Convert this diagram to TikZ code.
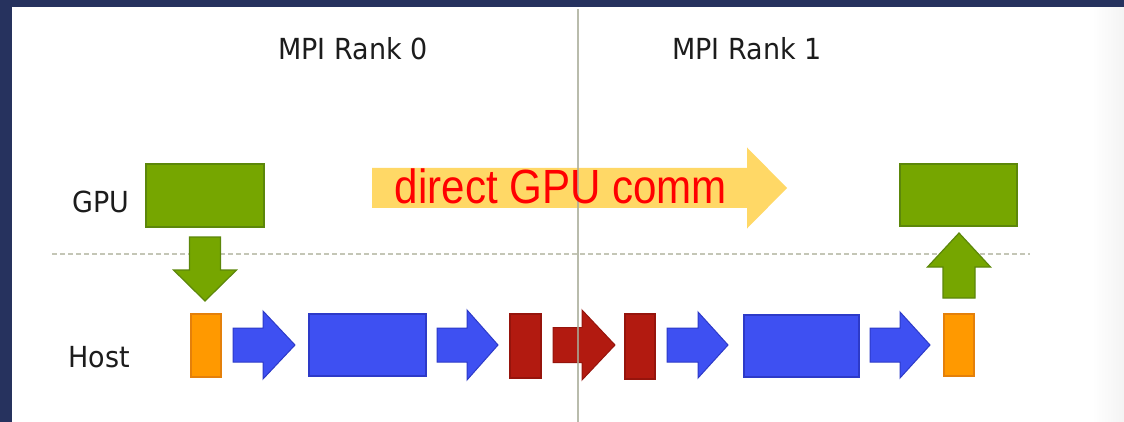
\documentclass[tikz,border=0pt]{standalone}
\usepackage{fontspec}
\setmainfont{DejaVu Sans}
\newfontfamily\commfont{Liberation Sans}
\usetikzlibrary{calc}

\definecolor{navy}{RGB}{38,50,94}
\definecolor{gpugreen}{RGB}{118,166,0}
\definecolor{gpugreenD}{RGB}{92,135,10}
\definecolor{hostorange}{RGB}{255,153,0}
\definecolor{hostorangeD}{RGB}{228,128,10}
\definecolor{stageblue}{RGB}{62,80,242}
\definecolor{stageblueD}{RGB}{45,58,200}
\definecolor{netred}{RGB}{178,26,16}
\definecolor{netredD}{RGB}{150,20,12}
\definecolor{commyellow}{RGB}{255,216,102}
\definecolor{divider}{RGB}{168,172,152}
\definecolor{dotline}{RGB}{196,198,182}
\definecolor{labelgray}{RGB}{28,28,28}

% horizontal block arrow: style, shaft start x, head base x, tip x, centre y, half shaft, half head
\newcommand{\hblock}[7]{%
  \filldraw[#1] (#2,#5-#6) -- (#3,#5-#6) -- (#3,#5-#7) -- (#4,#5)
    -- (#3,#5+#7) -- (#3,#5+#6) -- (#2,#5+#6) -- cycle;}
% vertical block arrow: style, centre x, shaft end y, head base y, tip y, half shaft, half head
\newcommand{\vblock}[7]{%
  \filldraw[#1] (#2-#6,#3) -- (#2-#6,#4) -- (#2-#7,#4) -- (#2,#5)
    -- (#2+#7,#4) -- (#2+#6,#4) -- (#2+#6,#3) -- cycle;}

\tikzset{
  lbl/.style={text=labelgray, font=\fontsize{29}{29}\selectfont, inner sep=0pt, anchor=base, xscale=0.93},
  box/.style={rectangle, inner sep=0pt, line width=1.2pt},
  gpubox/.style={box, fill=gpugreen, draw=gpugreenD},
  hostbox/.style={box, fill=hostorange, draw=hostorangeD},
  bluebox/.style={box, fill=stageblue, draw=stageblueD},
  redbox/.style={box, fill=netred, draw=netredD},
  greenarrow/.style={fill=gpugreen, draw=gpugreenD, line width=1.2pt, line join=miter},
  bluearrow/.style={fill=stageblue, draw=stageblueD, line width=1pt, line join=miter},
  redarrow/.style={fill=netred, draw=netredD, line width=1pt, line join=miter},
}

\begin{document}
\begin{tikzpicture}[x=1pt, y=-1pt]
  \useasboundingbox (0,0) rectangle (1124,422);
  % frame
  \fill[white] (0,0) rectangle (1124,422);
  \shade[left color=white, right color=gray!9] (1092,7) rectangle (1124,422);
  \fill[navy] (0,0) rectangle (1124,7);
  \fill[navy] (0,0) rectangle (12,422);

  % GPU / host separator
  \draw[dotline, line width=1.6pt, dash pattern=on 5pt off 3pt] (52,254) -- (1030,254);

  % column headings and row labels
  \node[lbl] (rank0) at (353,60) {MPI Rank 0};
  \node[lbl] (rank1) at (747,60) {MPI Rank 1};
  \node[lbl] (gpulbl) at (101,212) {GPU};
  \node[lbl] (hostlbl) at (99,367) {Host};

  % GPU buffers
  \node[gpubox, minimum width=118, minimum height=63] (gpuL) at (205,195.5) {};
  \node[gpubox, minimum width=117, minimum height=62] (gpuR) at (958.5,195) {};

  % host pipeline
  \node[hostbox, minimum width=30, minimum height=63] (hostL) at (206,345.5) {};
  \node[bluebox, minimum width=117, minimum height=62] (blueL) at (367.5,345) {};
  \node[redbox, minimum width=31, minimum height=64] (redL) at (525.5,346) {};
  \node[redbox, minimum width=30, minimum height=65] (redR) at (640,346.5) {};
  \node[bluebox, minimum width=115, minimum height=62] (blueR) at (801.5,346) {};
  \node[hostbox, minimum width=30, minimum height=62] (hostR) at (959,345) {};

  % transfers GPU <-> host
  \vblock{greenarrow}{205}{237}{270}{301}{15.5}{31.5}
  \vblock{greenarrow}{959}{298}{267}{233}{16}{31.5}

  % staging steps along the host row
  \hblock{bluearrow}{233}{263}{295}{345}{17}{34}
  \hblock{bluearrow}{437}{467}{498}{345}{17}{35}
  \hblock{redarrow}{553}{582}{615}{345}{17.5}{35}
  \hblock{bluearrow}{667}{698}{728}{345}{17}{33}
  \hblock{bluearrow}{870}{900}{930}{345}{17}{33}

  % direct path
  \hblock{fill=commyellow, draw=none}{372}{747}{787}{188}{20}{40.5}

  % rank divider
  \draw[divider, line width=2pt, opacity=0.8] (578,9) -- (578,422);

  \node[text=red, font=\commfont\fontsize{48}{48}\selectfont, inner sep=0pt, anchor=base, xscale=0.877]
    (comm) at (561,204) {direct GPU comm};
\end{tikzpicture}
\end{document}
